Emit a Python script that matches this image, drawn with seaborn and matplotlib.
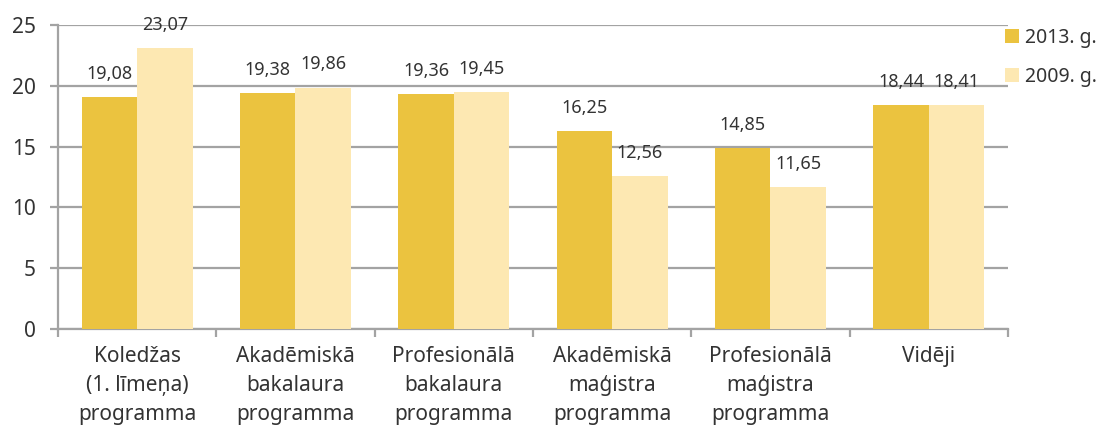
import matplotlib
matplotlib.use("Agg")
import matplotlib.pyplot as plt
import seaborn as sns
import pandas as pd
import numpy as np

categories = [
    "Koledžas\n(1. līmeņa)\nprogramma",
    "Akadēmiskā\nbakalaura\nprogramma",
    "Profesionālā\nbakalaura\nprogramma",
    "Akadēmiskā\nmaģistra\nprogramma",
    "Profesionālā\nmaģistra\nprogramma",
    "Vidēji",
]
values_2013 = [19.08, 19.38, 19.36, 16.25, 14.85, 18.44]
values_2009 = [23.07, 19.86, 19.45, 12.56, 11.65, 18.41]
series = ["2013. g.", "2009. g."]
y_ticks = [0, 5, 10, 15, 20, 25]

colors = ["#EBC33F", "#FDE8B2"]
text_color = "#333333"
grid_color = "#A3A3A3"

sns.set_theme(style="white")
plt.rcParams["font.family"] = ["Noto Sans", "DejaVu Sans"]

df = pd.DataFrame({
    "category": categories * 2,
    "value": values_2013 + values_2009,
    "series": [series[0]] * len(categories) + [series[1]] * len(categories),
})

fig = plt.figure(figsize=(10.99, 4.28), dpi=100)
ax = fig.add_axes([58 / 1099, 1 - 329 / 428, (1008 - 58) / 1099, (329 - 25) / 428])

sns.barplot(data=df, x="category", y="value", hue="series", palette=colors,
            width=0.70, saturation=1, ax=ax, zorder=3, linewidth=0)

# value labels above each bar
for container in ax.containers:
    for bar in container:
        h = bar.get_height()
        ax.annotate(f"{h:.2f}".replace(".", ","),
                    xy=(bar.get_x() + bar.get_width() / 2, h),
                    xytext=(0, 13), textcoords="offset points",
                    ha="center", va="baseline", fontsize=13,
                    color=text_color, zorder=4)

ax.set_xlim(-0.5, len(categories) - 0.5)
ax.set_ylim(0, 25)
ax.set_yticks(y_ticks)
ax.yaxis.grid(True, color=grid_color, linewidth=1.6, zorder=0)
ax.set_axisbelow(True)

ax.set_xlabel("")
ax.set_ylabel("")

# category labels at centers, tick marks at group boundaries
ax.set_xticks(np.arange(len(categories)))
ax.set_xticklabels(categories, fontsize=15, color=text_color, linespacing=1.5)
ax.set_xticks(np.arange(-0.5, len(categories)), minor=True)
ax.tick_params(axis="x", which="major", length=0, pad=12)
ax.tick_params(axis="x", which="minor", length=6, width=1.6, color=grid_color,
               direction="out", bottom=True)
ax.tick_params(axis="y", length=6, width=1.6, color=grid_color, pad=10,
               labelsize=15, labelcolor=text_color, left=True)

for side in ["top", "right"]:
    ax.spines[side].set_visible(False)
for side in ["left", "bottom"]:
    ax.spines[side].set_color(grid_color)
    ax.spines[side].set_linewidth(1.6)

leg = ax.legend(loc="upper left", bbox_to_anchor=(0.9965, 0.99), frameon=False,
                fontsize=14, handlelength=0.72, handleheight=0.72,
                handletextpad=0.3, labelspacing=0.95, borderaxespad=0,
                borderpad=0)
for t in leg.get_texts():
    t.set_color(text_color)

fig.savefig("out.png", dpi=100)
